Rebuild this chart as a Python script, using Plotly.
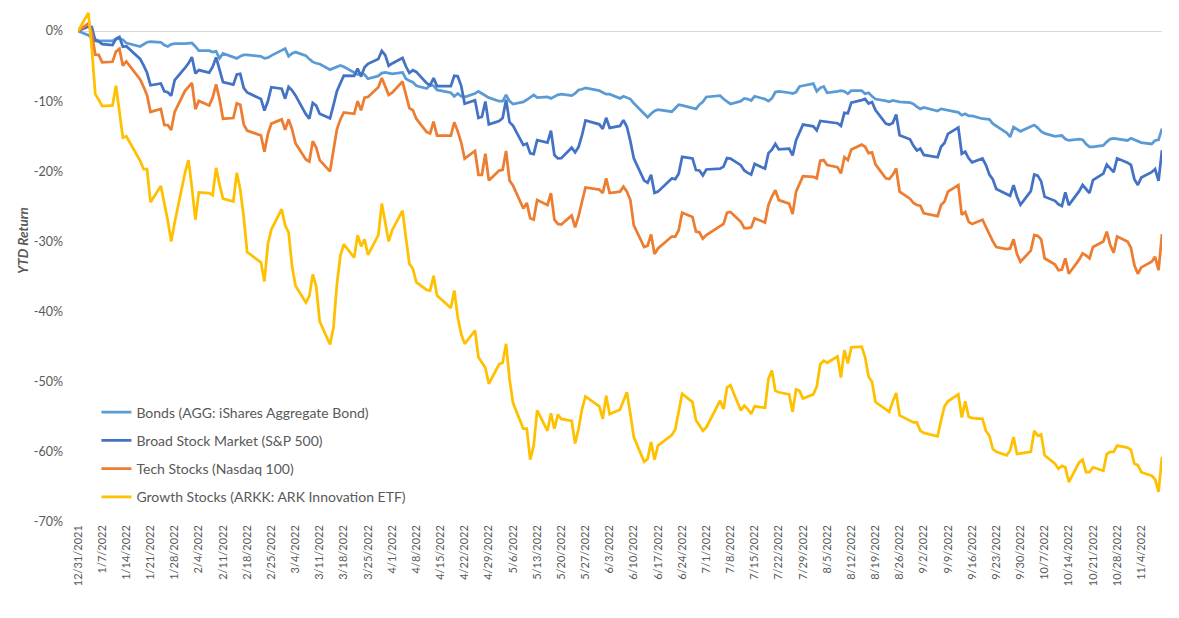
import pandas as pd
import plotly.graph_objects as go

# trading days: last close of 2021, then every NYSE session through 11/10/2022
start_date = "2021-12-31"
first_session = "2022-01-03"
last_session = "2022-11-10"
holidays = ["2022-01-17", "2022-02-21", "2022-04-15", "2022-05-30",
            "2022-06-20", "2022-07-04", "2022-09-05"]

# YTD returns in percent, one value per trading day (Jan..Nov rows)
bonds = [
    0.0, -0.6, -1.0, -1.2, -1.4, -1.4, -1.4, -1.15, -1.05, -1.25, -1.7, -2.2, -1.9, -1.6, -1.5, -1.6, -2.0, -2.2, -1.9, -1.8, -1.8,
    -1.8, -1.7, -2.2, -2.8, -2.8, -3.0, -2.9, -3.9, -3.2, -3.7, -3.9, -3.6, -3.4, -3.4, -3.6, -3.9, -3.8, -3.5, -2.8,
    -2.5, -3.6, -3.2, -3.0, -3.5, -4.0, -4.4, -4.6, -4.7, -5.5, -5.3, -5.0, -4.9, -5.1, -5.9, -6.2, -6.0, -6.2, -6.8, -6.4, -6.0, -5.9, -6.0,
    -6.1, -5.9, -6.8, -7.1, -7.3, -7.8, -8.2, -7.7, -7.8, -8.4, -8.8, -9.3, -8.9, -9.3, -9.4, -8.9, -8.6, -8.9, -9.2, -9.5,
    -10.0, -10.0, -9.1, -10.0, -10.4, -10.1, -9.8, -9.5, -9.1, -9.5, -9.4, -9.6, -9.3, -9.1, -9.0, -9.2, -8.9, -8.4, -8.3, -8.1, -8.5,
    -8.8, -9.0, -9.0, -9.6, -9.3, -9.5, -9.7, -10.3, -11.8, -12.3, -11.8, -11.4, -11.2, -11.5, -11.0, -10.5, -10.6, -11.0, -11.1, -10.5, -10.1,
    -9.4, -9.2, -9.7, -10.0, -10.4, -10.0, -9.6, -9.7, -9.9, -9.3, -9.7, -10.0, -9.6, -8.7, -8.6, -8.8, -8.9, -8.7, -7.9, -7.8,
    -7.5, -8.6, -8.1, -7.9, -8.8, -8.6, -8.5, -8.6, -8.95, -8.5, -8.5, -8.95, -8.8, -9.3, -9.7, -9.95, -10.1, -9.9, -10.0, -10.1, -10.2, -10.4, -10.8,
    -11.1, -10.9, -11.4, -11.1, -11.2, -11.3, -11.6, -12.0, -11.8, -12.1, -12.1, -12.5, -12.5, -12.6, -13.2, -13.5, -14.5, -15.1, -13.7, -14.0, -14.3,
    -13.6, -13.4, -13.8, -14.3, -14.6, -15.0, -14.95, -14.9, -15.4, -15.6, -15.4, -15.5, -16.1, -16.5, -16.5, -16.3, -15.8, -15.4, -15.3, -15.4, -15.6,
    -15.3, -15.5, -15.8, -15.9, -16.1, -15.6, -15.5, -13.9,
]

sp500 = [
    0.0, 0.64, 0.57, -1.38, -1.47, -1.87, -2.01, -1.11, -0.84, -2.25, -2.17, -3.97, -4.90, -5.95, -7.73, -7.47, -8.60, -8.73, -9.22, -7.01, -5.26,
    -4.61, -3.71, -6.06, -5.57, -5.92, -5.13, -3.76, -5.50, -7.29, -7.65, -6.19, -6.11, -8.10, -8.76, -9.68, -11.34, -10.02, -8.01, -8.23,
    -9.65, -7.97, -8.45, -9.18, -11.86, -12.49, -10.25, -10.63, -11.79, -12.44, -10.57, -8.57, -7.44, -6.36, -6.40, -5.34, -6.50, -5.16, -4.68, -4.00, -2.82, -3.44, -4.95,
    -4.62, -3.85, -5.06, -5.98, -5.58, -5.83, -7.42, -7.74, -6.71, -7.84, -7.86, -6.38, -6.44, -7.82, -10.37, -9.86, -12.40, -12.22, -10.04, -13.31,
    -12.82, -12.39, -9.78, -12.99, -13.49, -16.26, -16.05, -17.44, -17.54, -15.57, -15.91, -14.21, -17.68, -18.16, -18.14, -16.63, -17.30, -16.52, -14.86, -12.76, -13.30,
    -13.95, -12.37, -13.80, -13.53, -12.70, -13.65, -15.70, -18.16, -21.33, -21.63, -20.48, -23.07, -22.90, -21.01, -21.11, -20.36, -17.93, -18.17, -19.82, -19.88, -20.58,
    -19.74, -19.61, -19.33, -18.12, -18.19, -19.13, -19.88, -20.23, -20.47, -18.95, -19.62, -17.40, -16.92, -16.10, -16.88, -16.77, -17.73, -15.58, -14.56, -13.34,
    -13.59, -14.16, -12.82, -12.89, -13.03, -13.14, -13.51, -11.66, -11.73, -10.20, -9.84, -9.67, -10.33, -10.12, -11.28, -13.18, -13.37, -13.12, -11.90, -14.87, -15.43, -16.37, -17.02,
    -16.77, -17.66, -18.00, -16.50, -15.95, -14.66, -13.76, -17.49, -17.21, -18.15, -18.73, -18.18, -19.10, -20.48, -21.15, -22.51, -23.31, -23.48, -21.97, -23.62, -24.77,
    -22.82, -20.46, -20.62, -21.44, -23.64, -24.21, -24.70, -24.95, -23.00, -24.82, -22.83, -21.95, -22.47, -23.09, -21.26, -20.33, -19.03, -19.63, -20.12, -18.15, -18.76,
    -19.09, -21.12, -21.95, -20.89, -20.13, -19.68, -21.35, -16.99,
]

nasdaq100 = [
    0.0, 1.1, -0.25, -3.36, -3.4, -4.46, -4.38, -2.94, -2.54, -4.94, -4.34, -6.91, -7.95, -9.14, -11.53, -11.11, -13.39, -13.4, -14.1, -11.52, -8.52,
    -8.02, -7.4, -11.14, -9.96, -10.6, -9.5, -7.6, -9.7, -12.5, -12.4, -10.3, -10.5, -13.3, -14.2, -14.9, -17.2, -14.7, -13.2, -12.6,
    -14.1, -12.6, -14.0, -16.0, -18.3, -18.6, -15.7, -16.6, -18.4, -20.0, -17.3, -14.0, -12.6, -11.6, -11.8, -10.0, -11.3, -9.5, -9.4, -8.0, -6.7, -7.9, -9.1,
    -8.8, -7.2, -9.1, -11.0, -11.3, -12.5, -14.4, -14.6, -12.9, -14.9, -14.9, -13.0, -14.3, -15.9, -18.2, -17.1, -20.5, -20.5, -17.5, -21.3,
    -19.9, -19.8, -17.1, -21.3, -22.0, -25.3, -24.5, -26.7, -26.9, -24.1, -24.8, -23.1, -26.9, -27.5, -27.6, -26.3, -28.0, -26.4, -24.3, -22.3, -22.6,
    -23.1, -21.0, -23.1, -22.9, -22.2, -22.9, -24.1, -27.7, -30.8, -30.6, -29.0, -31.8, -31.0, -29.3, -29.3, -28.4, -25.9, -26.5, -28.6, -28.7, -29.6,
    -29.1, -27.9, -27.5, -25.9, -25.8, -27.2, -28.1, -28.1, -28.0, -26.7, -27.3, -24.8, -23.6, -22.7, -24.1, -24.6, -26.1, -22.9, -21.9, -20.7,
    -20.8, -21.0, -18.5, -18.4, -19.1, -19.4, -20.3, -18.0, -18.4, -16.9, -16.2, -16.5, -17.4, -17.3, -19.0, -21.0, -21.1, -20.5, -19.6, -22.9, -23.9, -24.5, -24.8,
    -24.9, -26.0, -26.4, -24.8, -24.3, -22.9, -21.95, -26.2, -25.8, -27.2, -27.5, -26.9, -28.0, -29.0, -30.0, -30.8, -31.1, -31.0, -29.7, -31.8, -32.9,
    -31.3, -29.1, -29.2, -29.7, -32.4, -33.3, -34.1, -34.0, -32.4, -34.6, -32.6, -31.7, -32.0, -32.4, -30.8, -30.0, -28.6, -30.5, -31.6, -29.3, -30.0,
    -30.9, -33.4, -34.6, -33.7, -32.9, -32.2, -34.1, -28.95,
]

arkk = [
    0.0, 2.6, -2.5, -9.0, -9.8, -10.7, -10.6, -7.8, -11.5, -15.2, -15.0, -18.5, -19.7, -19.7, -24.4, -22.1, -24.6, -27.0, -30.0, -27.3, -20.2,
    -18.4, -22.3, -26.9, -23.0, -23.1, -23.4, -19.5, -21.9, -23.9, -24.3, -20.2, -22.6, -26.5, -31.5, -33.0, -35.7, -30.4, -28.3, -25.4,
    -27.7, -28.7, -33.5, -36.3, -38.7, -37.8, -34.7, -36.4, -41.4, -44.7, -42.3, -36.1, -32.0, -30.4, -32.3, -29.1, -30.7, -29.7, -31.9, -29.1, -24.6, -27.5, -30.0,
    -28.4, -25.6, -29.5, -33.2, -33.9, -35.8, -36.9, -37.0, -34.9, -37.7, -39.5, -37.0, -40.8, -43.2, -44.6, -42.7, -46.5, -47.3, -48.0, -50.3,
    -47.5, -47.3, -44.6, -49.6, -53.0, -56.7, -56.7, -61.1, -59.1, -54.1, -57.0, -54.5, -56.7, -54.7, -55.3, -55.6, -58.8, -56.7, -53.9, -52.1, -53.5,
    -55.3, -52.0, -54.6, -54.0, -52.7, -51.5, -54.6, -57.9, -61.4, -61.0, -58.6, -61.1, -59.1, -57.6, -56.8, -54.1, -51.7, -52.9, -55.5, -56.2, -57.0,
    -56.5, -52.7, -53.9, -50.8, -50.5, -54.1, -53.4, -53.9, -54.6, -53.5, -53.7, -49.6, -48.4, -51.3, -51.5, -51.8, -54.3, -51.1, -51.3, -52.4,
    -51.8, -50.7, -47.5, -47.0, -47.3, -46.4, -49.4, -45.5, -47.4, -45.1, -45.0, -46.5, -49.3, -50.0, -52.9, -54.0, -54.3, -52.8, -51.6, -54.8, -55.6, -55.8, -55.8,
    -57.0, -57.3, -57.8, -55.5, -53.5, -52.8, -51.8, -55.1, -52.8, -55.0, -55.2, -55.3, -57.0, -57.7, -59.6, -60.0, -60.5, -59.8, -57.9, -60.3, -60.2,
    -60.0, -57.0, -57.7, -57.5, -60.5, -61.7, -62.4, -62.0, -62.2, -64.3, -61.5, -61.1, -62.9, -62.9, -62.2, -62.7, -60.3, -60.0, -60.0, -59.1, -59.4,
    -59.7, -61.7, -61.9, -62.9, -63.4, -63.9, -65.7, -60.7,
]

series_names = [
    "Bonds (AGG: iShares Aggregate Bond)",
    "Broad Stock Market (S&P 500)",
    "Tech Stocks (Nasdaq 100)",
    "Growth Stocks (ARKK: ARK Innovation ETF)",
]
series_colors = ["#5B9BD5", "#4472C4", "#ED7D31", "#FFC000"]

y_tickvals = [0, -10, -20, -30, -40, -50, -60, -70]
y_ticktext = ["0%", "-10%", "-20%", "-30%", "-40%", "-50%", "-60%", "-70%"]

sessions = pd.bdate_range(first_session, last_session)
sessions = sessions[~sessions.isin(pd.to_datetime(holidays))]
dates = [pd.Timestamp(start_date)] + list(sessions)

for s in (bonds, sp500, nasdaq100, arkk):
    assert len(s) == len(dates), (len(s), len(dates))

fig = go.Figure()
for name, vals, color in zip(series_names, [bonds, sp500, nasdaq100, arkk], series_colors):
    fig.add_trace(go.Scatter(
        x=dates, y=vals, mode="lines", name=name, legendgroup=name,
        line=dict(color=color, width=2.75),
    ))

fig.update_layout(
    width=1179, height=618,
    margin=dict(l=78, r=17, t=10, b=96),
    paper_bgcolor="white", plot_bgcolor="white",
    font=dict(family="Lato, sans-serif", color="#595959"),
    showlegend=True,
    legend=dict(
        x=0.017, y=0.245, xanchor="left", yanchor="top",
        bgcolor="rgba(0,0,0,0)", font=dict(size=14, color="#595959"),
        tracegroupgap=7, itemwidth=30,
    ),
    xaxis=dict(
        type="date", range=[start_date, last_session],
        tick0=start_date, dtick=7 * 86400000, tickformat="%-m/%-d/%Y",
        tickangle=-90, tickfont=dict(size=11, color="#595959"),
        showgrid=False, showline=False, zeroline=False, ticks="",
        automargin=False,
    ),
    yaxis=dict(
        range=[-70, 3], tickvals=y_tickvals, ticktext=y_ticktext,
        tickfont=dict(size=12.5, color="#595959"),
        showgrid=False, zeroline=True, zerolinecolor="#D9D9D9", zerolinewidth=1,
        showline=False, ticks="", ticklabelstandoff=14, automargin=False,
    ),
    annotations=[dict(
        text="<b><i>YTD Return</i></b>", xref="paper", yref="paper",
        x=0, y=0.549, xanchor="center", yanchor="middle", xshift=-55,
        textangle=-90, showarrow=False,
        font=dict(size=13.5, color="#595959"),
    )],
)

# the page body has a default 8px margin; drop it so the figure sits at 0,0
fig.write_html("out.html", config={"displayModeBar": False},
               post_script="document.body.style.margin='0px';")
